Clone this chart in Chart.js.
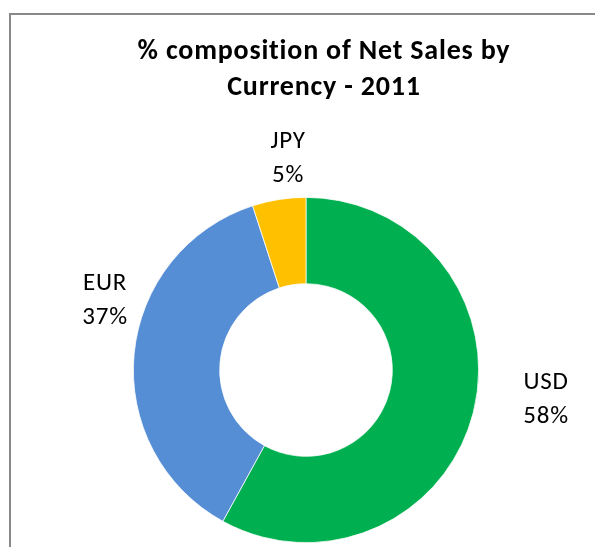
<!DOCTYPE html>
<html>
<head>
<meta charset="utf-8">
<script src="https://cdn.jsdelivr.net/npm/chart.js@4"></script>
<style>
html,body{margin:0;padding:0;background:#fff;overflow:hidden}
#wrap{position:relative;width:595px;height:547px}
#frame{position:absolute;left:9px;top:13px;width:700px;height:600px;border:2px solid #898989;box-sizing:border-box}
#chart{position:absolute;left:0;top:0}
</style>
</head>
<body>
<div id="wrap">
<div id="frame"></div>
<canvas id="chart" width="595" height="547"></canvas>
</div>
<script>
// net sales split by currency, 2011 (percent)
const currencies = ["USD", "EUR", "JPY"]
const shares = [58, 37, 5]
const sliceColors = ["#00B050", "#558ED5", "#FFC000"]
const titleLines = ["% composition of Net Sales by", "Currency - 2011"]

const FONT = "Carlito, Lato, 'Open Sans', sans-serif"

// title drawn by hand so it can sit a bit right of the ring's centre
const titlePlugin = {
    id: "sideTitle",
    afterDraw(chart, args, opts) {
        let ctx = chart.ctx
        ctx.save()
        ctx.fillStyle = "#000"
        ctx.font = "bold " + opts.size + "px " + FONT
        ctx.letterSpacing = opts.spacing + "px"
        ctx.textAlign = "center"
        ctx.textBaseline = "alphabetic"
        opts.lines.forEach((t, i) => ctx.fillText(t, opts.x, opts.y + i * opts.lineHeight))
        ctx.restore()
    }
}

// category name + percent outside each slice
const outsideLabels = {
    id: "outsideLabels",
    afterDatasetsDraw(chart, args, opts) {
        let ctx = chart.ctx
        let meta = chart.getDatasetMeta(0)
        ctx.save()
        ctx.fillStyle = "#000"
        ctx.font = opts.size + "px " + FONT
        ctx.letterSpacing = opts.spacing + "px"
        ctx.textAlign = "center"
        ctx.textBaseline = "alphabetic"
        meta.data.forEach((arc, i) => {
            let p = opts.place[i]
            let a = (arc.startAngle + arc.endAngle) / 2 + p.shift * Math.PI / 180
            let x = arc.x + Math.cos(a) * p.dist
            let y = arc.y + Math.sin(a) * p.dist
            let v = chart.data.datasets[0].data[i]
            ctx.fillText(chart.data.labels[i], x, y - opts.lineHeight / 2)
            ctx.fillText(v + "%", x, y + opts.lineHeight / 2)
        })
        ctx.restore()
    }
}

new Chart(document.getElementById("chart"), {
    type: "doughnut",
    data: {
        labels: currencies,
        datasets: [{
            data: shares,
            backgroundColor: sliceColors,
            borderColor: "#ffffff",
            borderWidth: 0.75
        }]
    },
    options: {
        responsive: false,
        animation: false,
        cutout: "50%",
        layout: {
            padding: { top: 197, bottom: 4, left: 133, right: 116 }
        },
        plugins: {
            legend: { display: false },
            tooltip: { enabled: false },
            sideTitle: { lines: titleLines, x: 324, y: 59, lineHeight: 36, size: 28, spacing: 0.8 },
            outsideLabels: {
                size: 25,
                spacing: 0.8,
                lineHeight: 34,
                place: [
                    { dist: 242.7, shift: -5.9 },
                    { dist: 210.6, shift: 12.0 },
                    { dist: 205.8, shift: 4.0 }
                ]
            }
        }
    },
    plugins: [titlePlugin, outsideLabels]
})
</script>
</body>
</html>
